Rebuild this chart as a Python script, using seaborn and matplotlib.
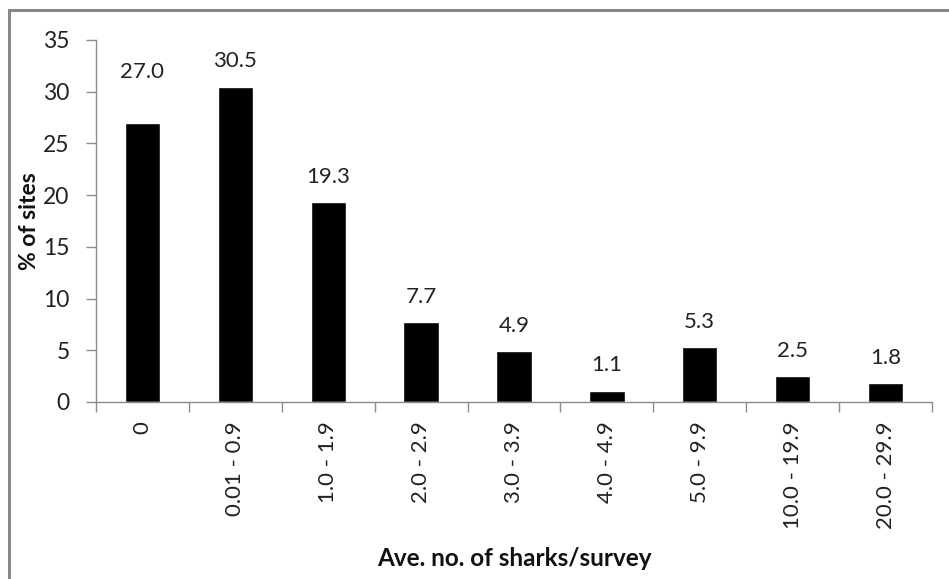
import matplotlib
matplotlib.use("Agg")
import matplotlib.pyplot as plt
from matplotlib.patches import Rectangle
import seaborn as sns
import pandas as pd

categories = ["0", "0.01 - 0.9", "1.0 - 1.9", "2.0 - 2.9", "3.0 - 3.9",
              "4.0 - 4.9", "5.0 - 9.9", "10.0 - 19.9", "20.0 - 29.9"]
pct_sites = [27.0, 30.5, 19.3, 7.7, 4.9, 1.1, 5.3, 2.5, 1.8]
y_ticks = [0, 5, 10, 15, 20, 25, 30, 35]

sns.set_theme(style="white")
plt.rcParams["font.family"] = ["Lato", "DejaVu Sans"]

df = pd.DataFrame({"range": categories, "pct": pct_sites})

W, H = 949, 579
fig = plt.figure(figsize=(W / 100, H / 100), dpi=100)
ax = fig.add_axes([96 / W, 1 - 402 / H, (932 - 96) / W, (402 - 40) / H])

sns.barplot(data=df, x="range", y="pct", color="black", saturation=1,
            width=0.38, ax=ax, order=categories)

ax.set_xlim(-0.5, len(categories) - 0.5)
ax.set_ylim(0, 35)
ax.set_yticks(y_ticks)

# Spines: only left and bottom, in gray
for side in ("top", "right"):
    ax.spines[side].set_visible(False)
for side in ("left", "bottom"):
    ax.spines[side].set_color("#8c8c8c")
    ax.spines[side].set_linewidth(1.0)

ax.tick_params(axis="y", direction="out", length=7, width=1, color="#8c8c8c",
               labelsize=16.5, labelcolor="#222222", pad=12, left=True)
# Category labels centered, tick marks at category boundaries
ax.tick_params(axis="x", which="major", length=0, labelsize=16,
               labelcolor="#222222", pad=14, rotation=90)
ax.set_xticks([i - 0.5 for i in range(len(categories) + 1)], minor=True)
ax.tick_params(axis="x", which="minor", direction="out", length=7, width=1,
               color="#8c8c8c", bottom=True)

ax.set_xlabel("Ave. no. of sharks/survey", fontsize=17.5, fontweight="bold",
              color="#111111")
ax.set_ylabel("% of sites", fontsize=16.5, fontweight="bold", color="#111111")
ax.xaxis.set_label_coords((514 - 96) / (932 - 96), -(558 - 402) / (402 - 40))
ax.yaxis.set_label_coords(-(96 - 29) / (932 - 96), (402 - 221) / (402 - 40))
ax.xaxis.label.set_va("center")
ax.yaxis.label.set_va("center")

# Value labels above bars
for i, v in enumerate(pct_sites):
    off = 29 if i == 0 else 11
    ax.annotate(f"{v:.1f}", xy=(i, v), xytext=(0, off), textcoords="offset points",
                ha="center", va="bottom", fontsize=16, color="#222222")

# Chart-area frame
fig.patches.append(Rectangle((9 / W, -0.1), 1.2, 1 - 10 / H + 0.1,
                             transform=fig.transFigure, fill=False,
                             edgecolor="#888888", linewidth=2.2))

fig.savefig("out.png", dpi=100)
